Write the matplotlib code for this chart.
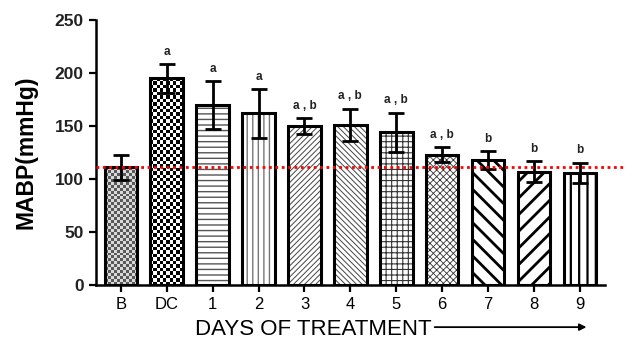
import matplotlib
matplotlib.use("Agg")
import matplotlib.pyplot as plt
import numpy as np

plt.rcParams["font.family"] = ["Liberation Sans", "DejaVu Sans"]

GROUPS = ["B", "DC", "1", "2", "3", "4", "5", "6", "7", "8", "9"]
MEANS = [111, 195, 170, 162, 150, 151, 144, 123, 118, 107, 106]
ERRORS = [12, 13.5, 22.5, 23, 7.5, 15.5, 18.5, 7, 8.5, 10, 9.5]
SIG = ["", "a", "a", "a", "a,b", "a,b", "a,b", "a,b", "b", "b", "b"]
BASELINE = MEANS[0]

# (hatch, hatch colour, hatch linewidth) per bar; "checker" = checkerboard image
HATCHES = [
    ("checker-fine", None, None),
    ("checker", None, None),
    ("---", "#555555", 1.0),
    ("|||", "#777777", 1.0),
    ("//////", "#444444", 0.7),
    ("\\\\\\\\\\\\", "#444444", 0.7),
    ("+++", "#333333", 0.8),
    ("xxxxx", "#333333", 0.6),
    ("\\\\", "black", 2.0),
    ("//", "black", 2.0),
    ("||", "black", 1.6),
]

fig = plt.figure(figsize=(6.37, 3.39), dpi=100)
ax = fig.add_axes([0.15, 0.159, 0.80, 0.782])

x = np.arange(len(GROUPS))
width = 0.71

for i, (h, hc, hlw) in enumerate(HATCHES):
    if h.startswith("checker"):
        bar = ax.bar(x[i], MEANS[i], width, color="white", linewidth=0, zorder=2)[0]
        if h == "checker":
            checker = np.indices((60, 10)).sum(axis=0) % 2
            lo, hi = 0.0, 1.0
        else:
            checker = np.indices((40, 11)).sum(axis=0) % 2
            lo, hi = 0.35, 0.85
        im = ax.imshow(checker * (hi - lo) + lo, cmap="gray", vmin=0, vmax=1,
                       interpolation="nearest", aspect="auto",
                       extent=(bar.get_x(), bar.get_x() + bar.get_width(), 0, bar.get_height()),
                       zorder=2)
        im.set_clip_path(bar)
    else:
        with plt.rc_context({"hatch.linewidth": hlw}):
            bar = ax.bar(x[i], MEANS[i], width, color="white", edgecolor=hc,
                         hatch=h, linewidth=0, zorder=2)[0]
            try:
                bar.set_hatch_linewidth(hlw)
            except AttributeError:
                pass

ax.bar(x, MEANS, width, fill=False, edgecolor="black", linewidth=2.2, zorder=3)
ax.errorbar(x, MEANS, yerr=ERRORS, fmt="none", ecolor="black", elinewidth=2,
            capsize=6, capthick=2, zorder=4)

for xi, m, e, s in zip(x, MEANS, ERRORS, SIG):
    if s:
        ax.text(xi, m + e + 6, s.replace(",", " , "), ha="center", va="bottom",
                fontsize=8.5, fontweight="bold", color="#222222")

ax.plot([-0.55, 10.95], [BASELINE, BASELINE], color="red", linestyle=(0, (1, 1.3)),
        linewidth=2, zorder=5, clip_on=False)

ax.set_xlim(-0.55, 10.55)
ax.set_ylim(0, 250)
ax.set_yticks([0, 50, 100, 150, 200, 250])
ax.set_xticks(x)
ax.set_xticklabels(GROUPS, fontsize=12)
for lbl in ax.get_yticklabels():
    lbl.set_fontsize(12.5)
    lbl.set_fontweight("bold")
    lbl.set_color("#222222")

for side in ["top", "right"]:
    ax.spines[side].set_visible(False)
for side in ["left", "bottom"]:
    ax.spines[side].set_linewidth(1.8)
ax.tick_params(axis="both", width=1.6, length=5)

ax.set_ylabel("MABP(mmHg)", fontsize=16.5, fontweight="bold", labelpad=12)

fig.text(0.306, 0.012, "DAYS OF TREATMENT", fontsize=16, ha="left", va="baseline")
fig.add_artist(matplotlib.patches.FancyArrowPatch(
    (0.678, 0.035), (0.925, 0.035), transform=fig.transFigure,
    arrowstyle="-|>", mutation_scale=10, linewidth=1.3, color="black"))

fig.savefig("out.png", dpi=100)
